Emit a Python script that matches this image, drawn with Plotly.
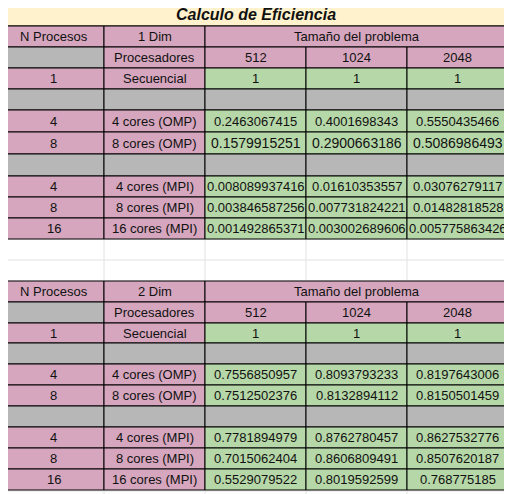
import plotly.graph_objects as go

# ---------------- data ----------------
title = "Calculo de Eficiencia"
sizes = ["512", "1024", "2048"]
row_procs = ["1", "", "4", "8", "", "4", "8", "16"]
row_labels = ["Secuencial", "", "4 cores (OMP)", "8 cores (OMP)", "",
              "4 cores (MPI)", "8 cores (MPI)", "16 cores (MPI)"]
eff_1d = [
    ["1", "1", "1"],
    None,
    ["0.2463067415", "0.4001698343", "0.5550435466"],
    ["0.1579915251", "0.2900663186", "0.5086986493"],
    None,
    ["0.008089937416", "0.01610353557", "0.03076279117"],
    ["0.003846587256", "0.007731824221", "0.01482818528"],
    ["0.001492865371", "0.003002689606", "0.005775863426"],
]
eff_2d = [
    ["1", "1", "1"],
    None,
    ["0.7556850957", "0.8093793233", "0.8197643006"],
    ["0.7512502376", "0.8132894112", "0.8150501459"],
    None,
    ["0.7781894979", "0.8762780457", "0.8627532776"],
    ["0.7015062404", "0.8606809491", "0.8507620187"],
    ["0.5529079522", "0.8019592599", "0.768775185"],
]

PINK, GRAY, GREEN, CREAM = "#d5a6bd", "#b7b7b7", "#b6d7a8", "#fff2cc"
FONT = "Liberation Sans, Arial"
cols = [3, 104, 205, 306, 407, 508]
PAGE_OFF = 8  # default body margin of the page

shapes, annotations = [], []


def cell(x0, x1, y0, y1, fill, text="", size=13, style="normal", weight="normal"):
    shapes.append(dict(type="rect", x0=x0, x1=x1, y0=y0, y1=y1, fillcolor=fill,
                       line=dict(color="black", width=1), layer="above"))
    if text:
        annotations.append(dict(x=(x0 + x1) / 2, y=(y0 + y1) / 2, text=text, showarrow=False,
                                font=dict(family=FONT, size=size, color="#111",
                                          style=style, weight=weight)))


# background spreadsheet grid
for x in cols:
    shapes.append(dict(type="line", x0=x, x1=x, y0=0, y1=494,
                       line=dict(color="#e2e2e2", width=1), layer="below"))
for y in range(0, 494, 21):
    shapes.append(dict(type="line", x0=0, x1=512, y0=y + 8, y1=y + 8,
                       line=dict(color="#e2e2e2", width=1), layer="below"))


def table(edges, dim, values, big_rows=()):
    y = edges
    cell(cols[0], cols[1], y[0], y[1], PINK, "N Procesos")
    cell(cols[1], cols[2], y[0], y[1], PINK, dim)
    cell(cols[2], cols[5], y[0], y[1], PINK, "Tamaño del problema")
    cell(cols[0], cols[1], y[1], y[2], GRAY)
    cell(cols[1], cols[2], y[1], y[2], PINK, "Procesadores")
    for j, s in enumerate(sizes):
        cell(cols[2 + j], cols[3 + j], y[1], y[2], PINK, s)
    for i, vals in enumerate(values):
        t, b = y[2 + i], y[3 + i]
        if vals is None:
            for j in range(5):
                cell(cols[j], cols[j + 1], t, b, GRAY)
            continue
        cell(cols[0], cols[1], t, b, PINK, row_procs[i])
        cell(cols[1], cols[2], t, b, PINK, row_labels[i])
        for j, v in enumerate(vals):
            cell(cols[2 + j], cols[3 + j], t, b, GREEN, v, size=14 if i in big_rows else 13)


cell(cols[0], cols[5], 2, 26, CREAM, title, size=16, style="italic", weight="bold")
table([26, 47, 68, 89, 110, 132, 154, 176, 197, 218, 239], "1 Dim", eff_1d, big_rows=(3,))
table([281, 302, 323, 343, 364, 385, 406, 427, 448, 469, 490], "2 Dim", eff_2d)

fig = go.Figure()
fig.update_layout(
    width=512 - PAGE_OFF, height=494 - PAGE_OFF, margin=dict(l=0, r=0, t=0, b=0),
    paper_bgcolor="white", plot_bgcolor="white", showlegend=False,
    xaxis=dict(range=[PAGE_OFF, 512], visible=False, fixedrange=True),
    yaxis=dict(range=[494, PAGE_OFF], visible=False, fixedrange=True),
    shapes=shapes, annotations=annotations,
)
fig.write_html("out.html")
